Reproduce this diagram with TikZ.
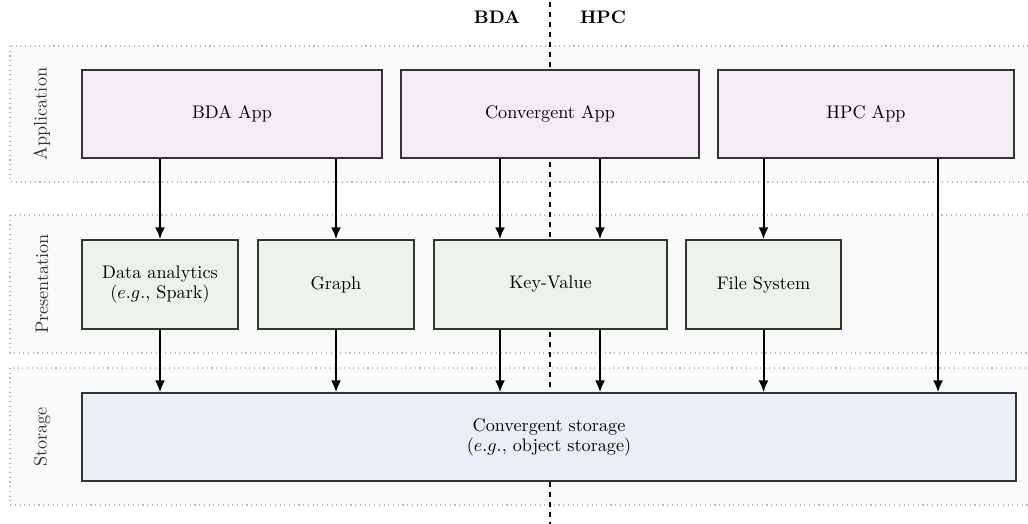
\documentclass[tikz,border=0pt]{standalone}
\usetikzlibrary{arrows.meta}
\definecolor{appfill}{HTML}{F3ECF4}
\definecolor{presfill}{HTML}{EDF3EB}
\definecolor{storfill}{HTML}{EAEFF6}
\definecolor{bandfill}{HTML}{FAFAFA}
\definecolor{boxline}{HTML}{333333}
\tikzset{
  band/.style={draw=gray!55, dotted, fill=bandfill, line width=0.6pt},
  boxbase/.style={draw=boxline, line width=0.8pt, align=center, inner sep=0pt, font=\normalsize},
  appbox/.style={boxbase, fill=appfill, minimum height=48.4pt},
  presbox/.style={boxbase, fill=presfill, minimum height=49pt},
  storbox/.style={boxbase, fill=storfill, minimum height=48.4pt},
  layerlabel/.style={rotate=90, font=\normalsize, text=black!80},
  sidelabel/.style={font=\bfseries},
  arr/.style={line width=1.1pt, -{Latex[length=6.5pt,width=5.5pt]}},
  divider/.style={line width=1.1pt, dash pattern=on 3pt off 2.5pt}
}
\begin{document}
\begin{tikzpicture}[x=0.55pt,y=-0.55pt]
\useasboundingbox (0,0) rectangle (1028,524);
% layer bands
\path[band] (10,46) rectangle (1045,182);
\path[band] (10,215) rectangle (1045,353);
\path[band] (10,368) rectangle (1045,505);
\node[layerlabel] (lapp) at (42,114) {Application};
\node[layerlabel] (lpres) at (42,284) {Presentation};
\node[layerlabel] (lstor) at (42,437) {Storage};
% divider
\coordinate (dtop) at (550,2);
\coordinate (dbot) at (550,526);
\draw[divider] (dtop) -- (dbot);
\node[sidelabel] (bdal) at (497,17) {BDA};
\node[sidelabel] (hpcl) at (603,17) {HPC};
% application boxes
\node[appbox, minimum width=165pt] (bda) at (232,114) {BDA App};
\node[appbox, minimum width=163.9pt] (conv) at (550,114) {Convergent App};
\node[appbox, minimum width=162.8pt] (hpc) at (866,114) {HPC App};
% presentation boxes
\node[presbox, minimum width=85.8pt] (da) at (160,284.5) {Data analytics\\[-1pt]($e.g.$, Spark)};
\node[presbox, minimum width=85.8pt] (gr) at (336,284.5) {Graph};
\node[presbox, minimum width=128.2pt] (kv) at (550.5,284.5) {Key-Value};
\node[presbox, minimum width=85.3pt] (fs) at (763.5,284.5) {File System};
% storage
\node[storbox, minimum width=513.7pt] (st) at (549,437) {Convergent storage\\[-1pt]($e.g.$, object storage)};
% arrow x positions
\coordinate (xa) at (500,0);
\coordinate (xb) at (600,0);
\coordinate (xc) at (938,0);
% arrows
\draw[arr] (bda.south -| da.north) -- (da.north);
\draw[arr] (bda.south -| gr.north) -- (gr.north);
\draw[arr] (conv.south -| xa) -- (kv.north -| xa);
\draw[arr] (conv.south -| xb) -- (kv.north -| xb);
\draw[arr] (hpc.south -| fs.north) -- (fs.north);
\draw[arr] (hpc.south -| xc) -- (st.north -| xc);
\draw[arr] (da.south) -- (st.north -| da.south);
\draw[arr] (gr.south) -- (st.north -| gr.south);
\draw[arr] (kv.south -| xa) -- (st.north -| xa);
\draw[arr] (kv.south -| xb) -- (st.north -| xb);
\draw[arr] (fs.south) -- (st.north -| fs.south);
\end{tikzpicture}
\end{document}
